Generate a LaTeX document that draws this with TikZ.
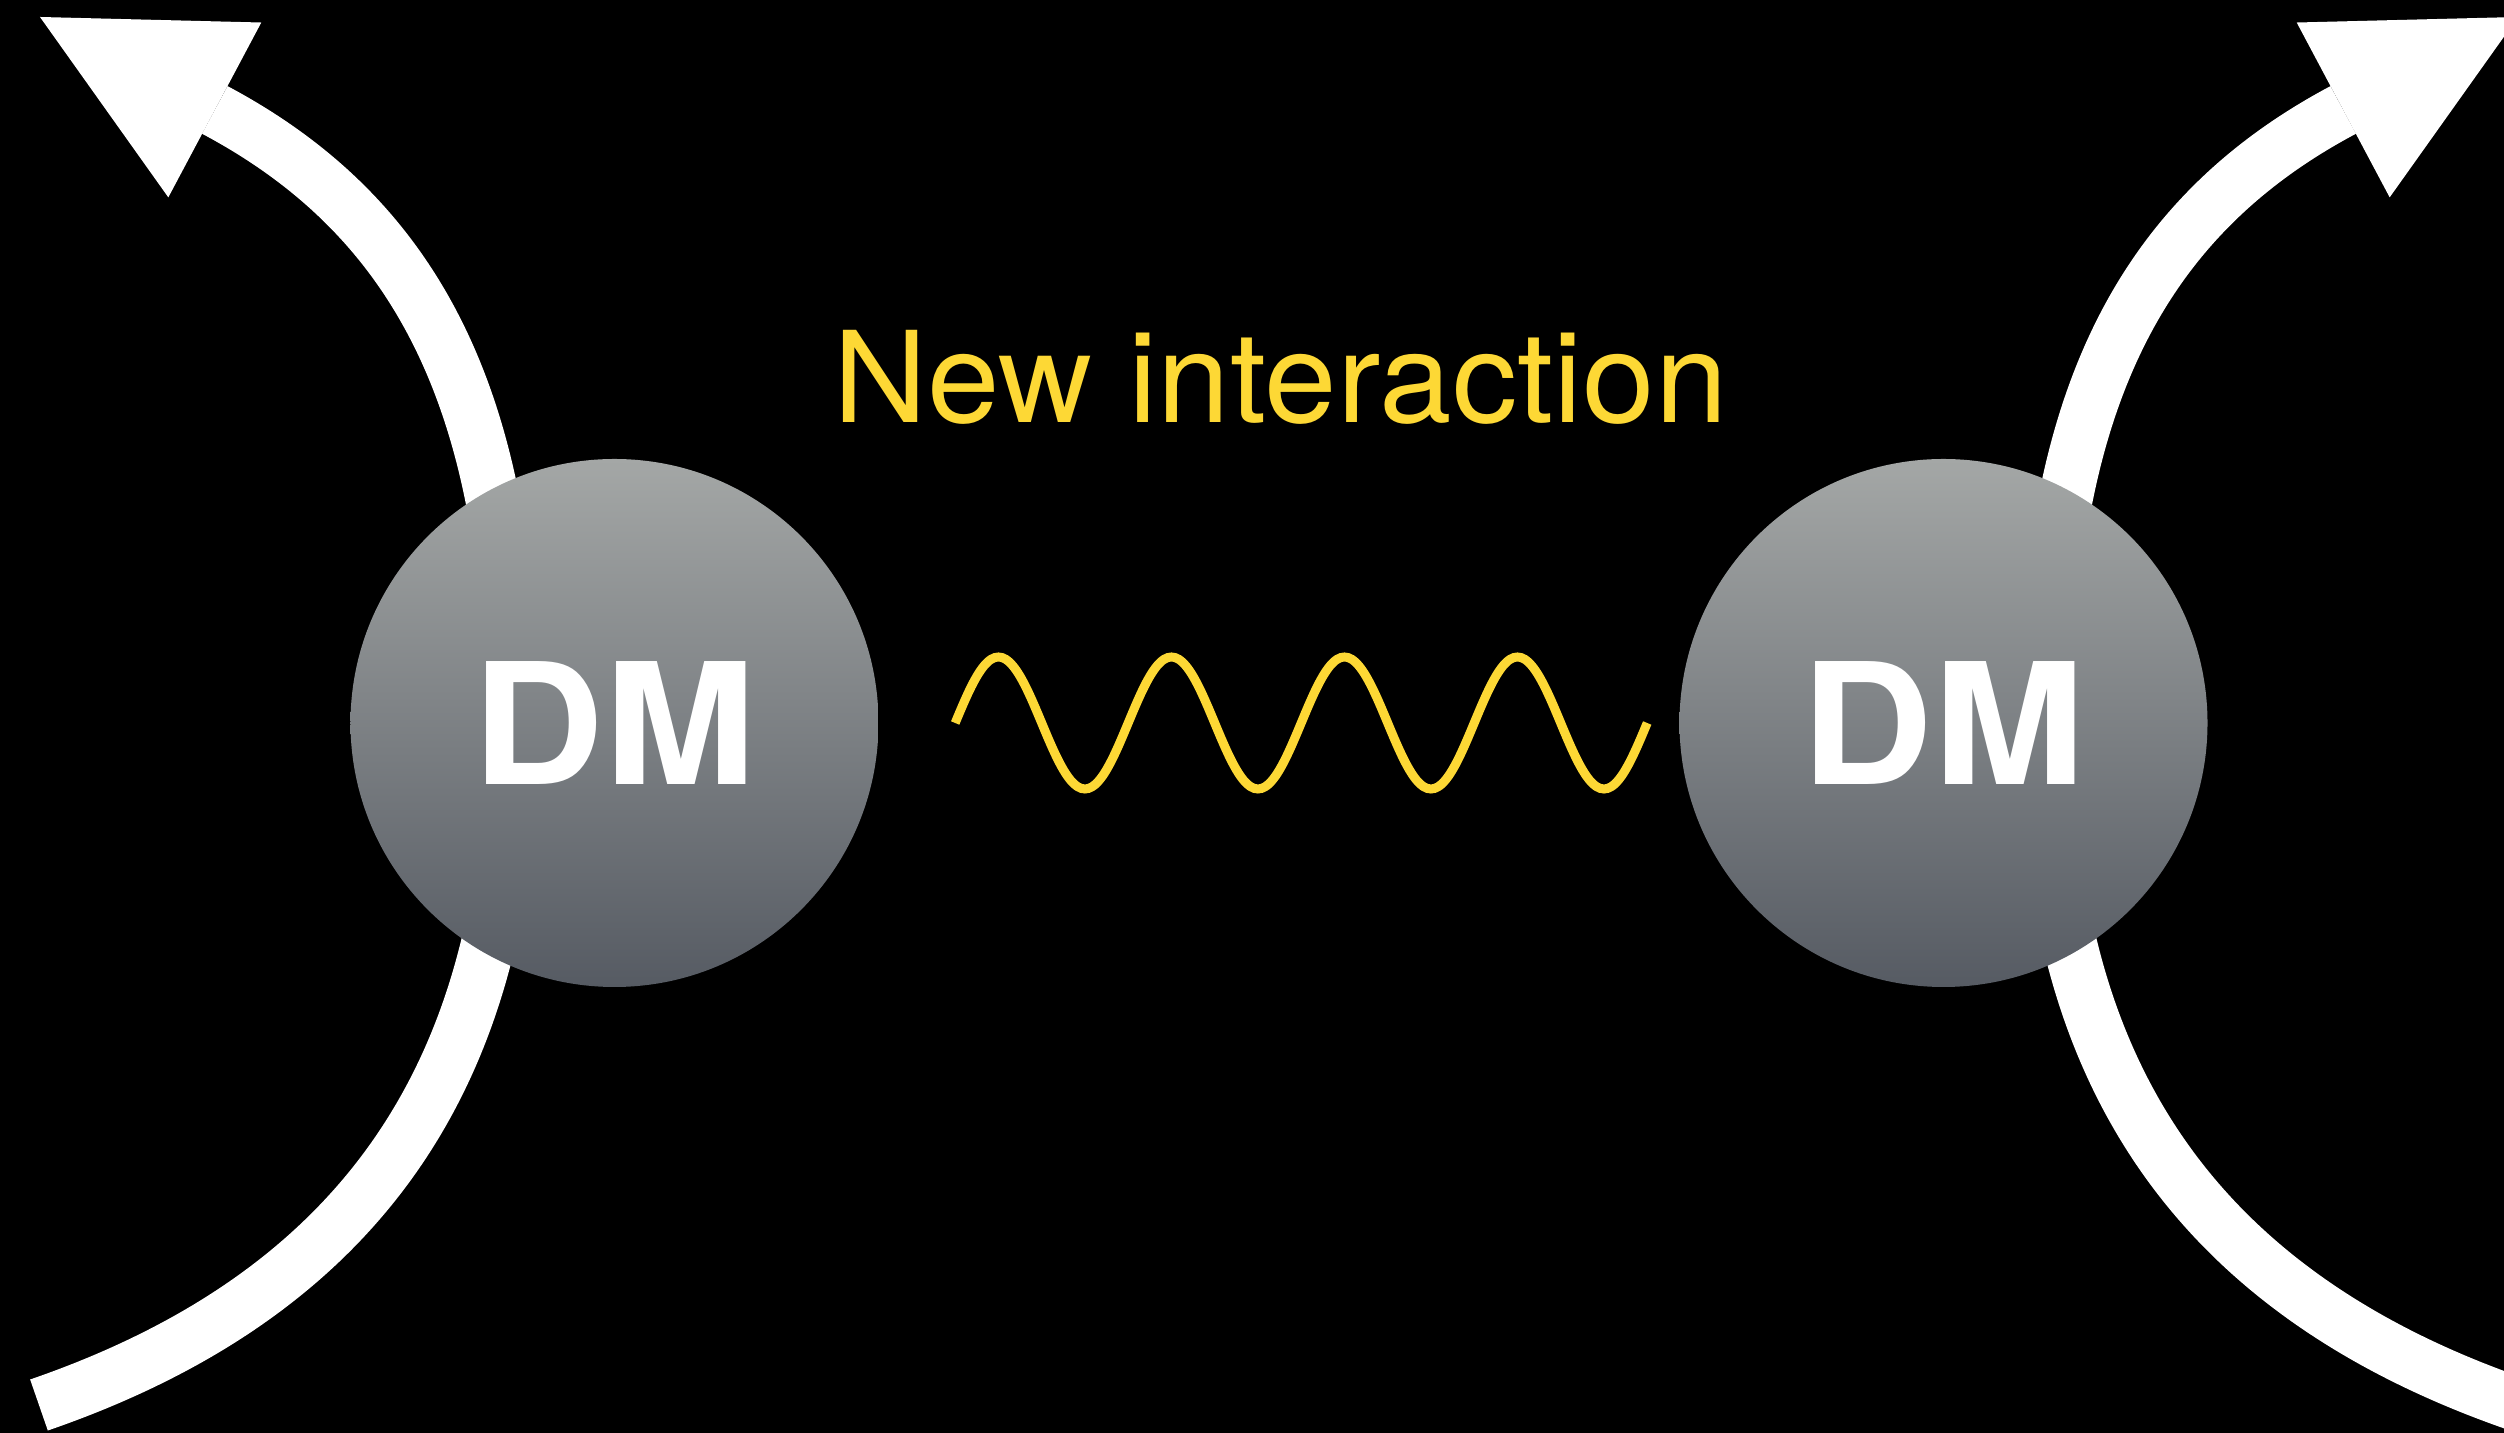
\documentclass[tikz,border=0pt]{standalone}
\usepackage{fontspec}
\setmainfont{TeX Gyre Heros}
\usetikzlibrary{positioning,arrows.meta,calc}
\definecolor{signalYellow}{HTML}{FDD835}
\definecolor{ballTop}{HTML}{A4A7A6}
\definecolor{ballBottom}{HTML}{565B63}

\tikzset{
  dmball/.style={circle, minimum size=5.28cm, inner sep=0pt,
    top color=ballTop, bottom color=ballBottom,
    text=white, font=\bfseries\fontsize{48}{58}\selectfont},
  dmtrack/.style={white, line width=5.4mm,
    -{Triangle[length=19.8mm, width=19.8mm, line width=0pt]}},
  mediator/.style={signalYellow, line width=0.9mm}
}

\begin{document}
\begin{tikzpicture}
        \useasboundingbox (-12.79,-7.10) rectangle (12.25,7.23);
        \fill[black] (-12.79,-7.10) rectangle (12.25,7.23);
        \clip (-12.79,-7.10) rectangle (12.25,7.23);
        % incoming and outgoing tracks, behind the balls
        \coordinate (inL) at (-12.40,-6.82);
        \coordinate (midL) at (-7.67,0);
        \coordinate (outL) at (-12.39,7.06);
        \coordinate (inR) at (12.40,-6.82);
        \coordinate (midR) at (7.67,0);
        \coordinate (outR) at (12.39,7.06);
        \draw[dmtrack] (inL) .. controls +(19:3.6) and +(0,-3.3) .. (midL)
          .. controls +(0,3.3) and +(-28:4.2) .. (outL);
        \draw[dmtrack] (inR) .. controls +(161:3.6) and +(0,-3.3) .. (midR)
          .. controls +(0,3.3) and +(-152:4.2) .. (outR);
        % the two particles
        \node[dmball] (dmL) at (-6.645,0) {\scalebox{1.08}[1]{DM}};
        \node[dmball] (dmR) at (6.645,0) {\scalebox{1.08}[1]{DM}};
        % exchanged field
        \coordinate (waveA) at ([xshift=7.6mm]dmL.east);
        \begin{scope}[shift={(waveA)}]
          \draw[mediator] plot[domain=0:1440, samples=193, smooth] ({\x/360*1.73}, {0.66*sin(\x)});
        \end{scope}
        \node[font=\fontsize{36}{43}\selectfont, text=signalYellow, anchor=base] (title) at (0.015,3.00) {\scalebox{1.03}[1]{New interaction}};
      \end{tikzpicture}
\end{document}
